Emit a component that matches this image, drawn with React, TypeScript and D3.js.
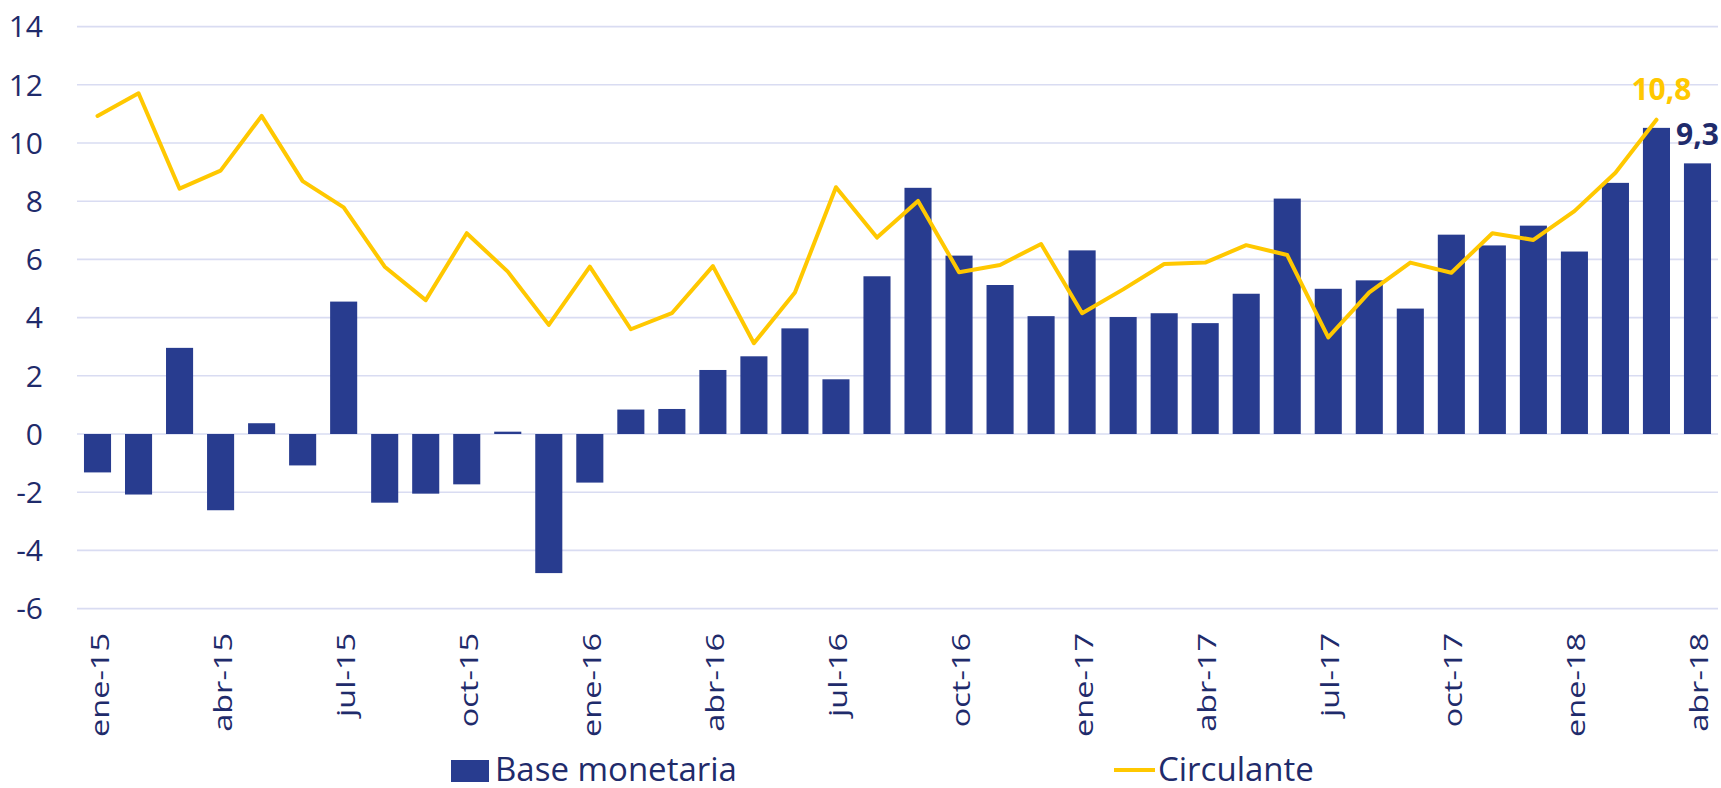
import React from "react";
import * as d3 from "d3";

const months = [
  "ene-15","feb-15","mar-15","abr-15","may-15","jun-15","jul-15","ago-15","sep-15","oct-15","nov-15","dic-15",
  "ene-16","feb-16","mar-16","abr-16","may-16","jun-16","jul-16","ago-16","sep-16","oct-16","nov-16","dic-16",
  "ene-17","feb-17","mar-17","abr-17","may-17","jun-17","jul-17","ago-17","sep-17","oct-17","nov-17","dic-17",
  "ene-18","feb-18","mar-18","abr-18",
];

const baseMonetaria = [
  -1.32, -2.08, 2.96, -2.62, 0.37, -1.08, 4.55, -2.36, -2.05, -1.73,
  0.08, -4.78, -1.67, 0.84, 0.86, 2.2, 2.67, 3.63, 1.88, 5.42,
  8.46, 6.13, 5.12, 4.05, 6.31, 4.02, 4.15, 3.81, 4.82, 8.09,
  4.99, 5.28, 4.31, 6.85, 6.48, 7.16, 6.27, 8.63, 10.52, 9.3,
];

const circulante = [
  10.93, 11.71, 8.43, 9.05, 10.93, 8.69, 7.79, 5.75, 4.6, 6.9,
  5.58, 3.75, 5.75, 3.6, 4.15, 5.77, 3.12, 4.86, 8.48, 6.75,
  8.01, 5.56, 5.81, 6.53, 4.15, 4.97, 5.84, 5.89, 6.49, 6.15,
  3.32, 4.87, 5.89, 5.54, 6.9, 6.67, 7.66, 8.98, 10.8,
];

const yTicks = [-6, -4, -2, 0, 2, 4, 6, 8, 10, 12, 14];
const xTickLabels = months.filter((_, i) => i % 3 === 0);

const seriesNames = ["Base monetaria", "Circulante"];

const W = 1721;
const H = 788;
const BAR = "#283C8F";
const GOLD = "#FFC800";
const TEXT = "#1F2B6B";
const GRID = "#D9DCF2";
const FONT = "'Open Sans', 'Noto Sans', sans-serif";

export default function App() {
  const x = d3
    .scaleBand<string>()
    .domain(months)
    .range([77, 1718])
    .paddingInner(0.34)
    .paddingOuter(0.17);
  const y = d3.scaleLinear().domain([-6, 14]).range([608.6, 26.6]);
  const cx = (m: string) => (x(m) as number) + x.bandwidth() / 2;

  const line = d3
    .line<number>()
    .x((_, i) => cx(months[i]))
    .y((d) => y(d));

  const fmt = (v: number) => d3.format(".1f")(v).replace(".", ",");
  const lastBarIdx = baseMonetaria.length - 1;
  const lastLineIdx = circulante.length - 1;

  return (
    <svg
      width={W}
      height={H}
      style={{ position: "absolute", left: 0, top: 0, background: "#fff" }}
      fontFamily={FONT}
    >
      <rect x={0} y={0} width={W} height={H} fill="#fff" />
      {/* gridlines */}
      {yTicks.map((t) => (
        <line key={"g" + t} x1={77} x2={1718} y1={y(t)} y2={y(t)} stroke={GRID} strokeWidth={1.6} />
      ))}
      {/* y tick labels */}
      {yTicks.map((t) => (
        <text
          key={"yt" + t}
          x={43}
          y={y(t)}
          dy="0.36em"
          textAnchor="end"
          fontSize={30}
          fill={TEXT}
        >
          {t}
        </text>
      ))}
      {/* bars */}
      {baseMonetaria.map((v, i) => (
        <rect
          key={"b" + i}
          x={x(months[i])}
          width={x.bandwidth()}
          y={Math.min(y(v), y(0))}
          height={Math.abs(y(v) - y(0))}
          fill={BAR}
        />
      ))}
      {/* line */}
      <path d={line(circulante) || ""} fill="none" stroke={GOLD} strokeWidth={4} strokeLinejoin="round" strokeLinecap="round" />
      {/* data labels */}
      <text
        x={cx(months[lastLineIdx]) + 5}
        y={y(circulante[lastLineIdx]) - 20}
        textAnchor="middle"
        fontSize={30}
        fontWeight="bold"
        fill={GOLD}
      >
        {fmt(circulante[lastLineIdx])}
      </text>
      <text
        x={cx(months[lastBarIdx])}
        y={y(baseMonetaria[lastBarIdx]) - 18}
        textAnchor="middle"
        fontSize={30}
        fontWeight="bold"
        fill={TEXT}
      >
        {fmt(baseMonetaria[lastBarIdx])}
      </text>
      {/* x tick labels */}
      {xTickLabels.map((m) => (
        <text
          key={"xt" + m}
          transform={`translate(${cx(m) + 11},633) rotate(-90) scale(1.3,1)`}
          textAnchor="end"
          fontSize={25}
          fill={TEXT}
        >
          {m}
        </text>
      ))}
      {/* legend */}
      <rect x={451} y={760} width={38} height={22} fill={BAR} />
      <text x={495} y={781} fontSize={33} fill={TEXT}>
        {seriesNames[0]}
      </text>
      <line x1={1114} x2={1155} y1={770} y2={770} stroke={GOLD} strokeWidth={4} />
      <text x={1158} y={781} fontSize={33} fill={TEXT}>
        {seriesNames[1]}
      </text>
    </svg>
  );
}
